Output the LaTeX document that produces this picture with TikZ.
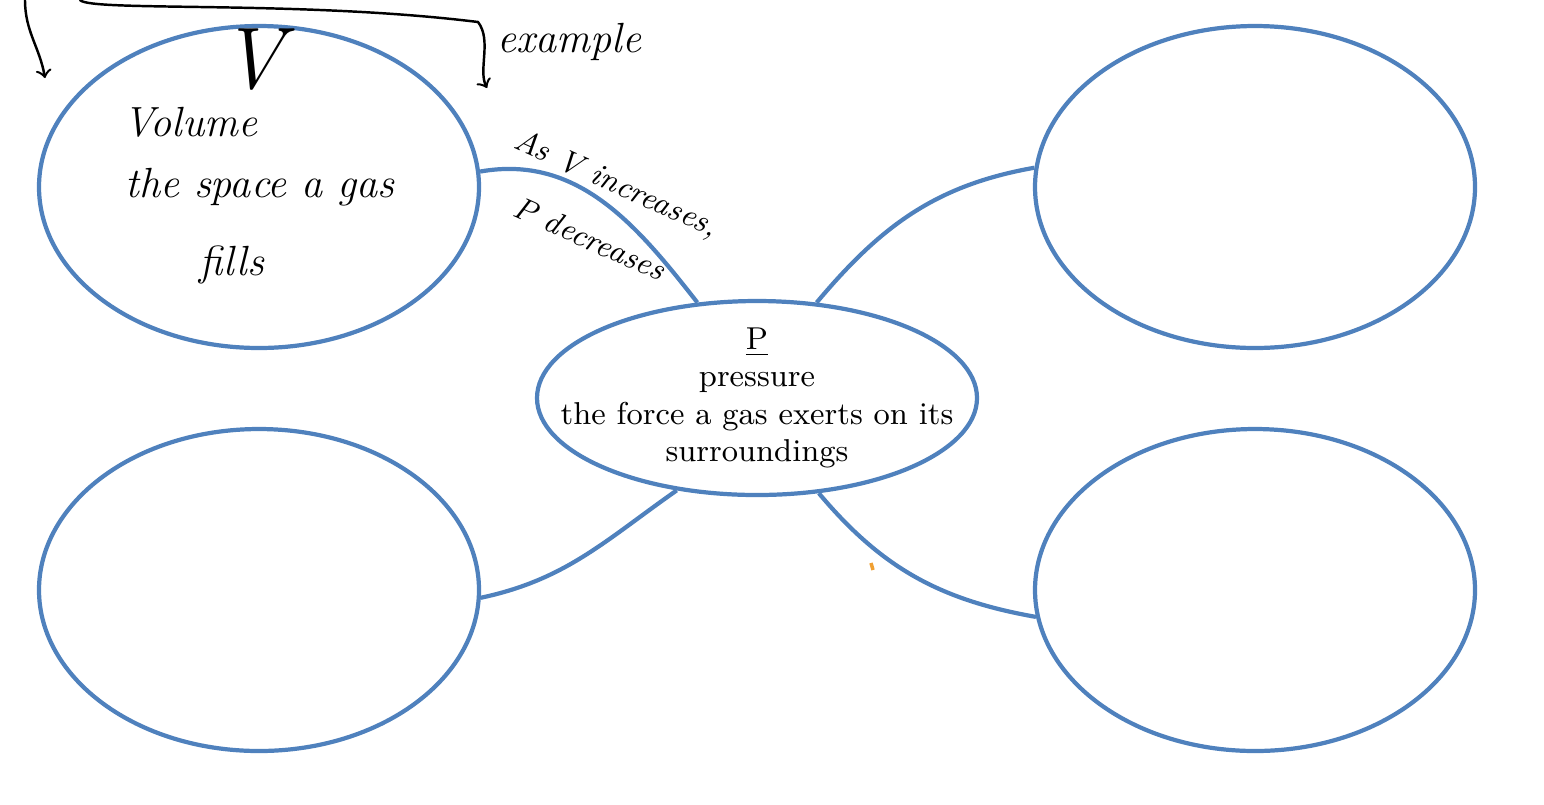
\documentclass[tikz,border=0pt]{standalone}
\usetikzlibrary{shapes.geometric}
\definecolor{bubbleColor}{RGB}{79,129,189}
\definecolor{markColor}{RGB}{240,160,50}
\tikzset{
  bubble/.style = {draw=bubbleColor, line width=1.2pt, ellipse, fill=white,
                   minimum width=44mm, minimum height=32.2mm, inner sep=0pt},
  link/.style = {draw=bubbleColor, line width=1.2pt},
  hand/.style = {font=\itshape\large, inner sep=0pt},
  pen/.style = {draw=black, line width=0.7pt, line cap=round},
}
\begin{document}
\begin{tikzpicture}[x=0.1mm, y=-0.1mm]
\useasboundingbox (0,0) rectangle (1544,804);
\node [bubble] (tl) at (259,187) {};
\node [bubble] (tr) at (1255,187) {};
\node [bubble] (bl) at (259,590) {};
\node [bubble] (br) at (1255,590) {};
\node [bubble, minimum height=19.4mm] (p) at (757,398) {};
\node [align=center, font=\fontsize{9}{10.6}\selectfont, inner sep=0pt] (pText) at (p)
  {\underline{P}\\pressure\\the force a gas exerts on its\\surroundings};
\draw [link] (tl.4) to[out=10, in=128] (p.122);
\draw [link] (bl.-2) to[out=12, in=-145] (p.229);
\draw [link] (tr.175) to[out=190, in=50] (p.58);
\draw [link] (br.187) to[out=170, in=-50] (p.-57);
% handwriting
\node [hand, font=\itshape\Huge] (bigV) at (252,60) {V};
\node [hand] (vol) at (190,122) {Volume};
\node [hand] (space) at (260,187) {the space a gas};
\node [hand] (fills) at (232,265) {fills};
\node [hand, anchor=west] (ex) at (497,42) {example};
\node [hand, font=\itshape\small, rotate=-24, anchor=west] (asV) at (515,140) {As V increases,};
\node [hand, font=\itshape\small, rotate=-24, anchor=west] (pDec) at (515,205) {P decreases};
\coordinate (leftTop) at (25,0);
\coordinate (leftTip) at (45,78);
\coordinate (braceTop) at (80,0);
\coordinate (braceTip) at (487,88);
\draw [pen, ->] (leftTop) to[out=-90, in=100] (leftTip);
\draw [pen, ->] (braceTop) .. controls (90,12) and (300,0) .. (478,22) .. controls (492,40) and (478,70) .. (braceTip);
\draw [markColor, line width=1pt] (871,563) -- (873,570);
\end{tikzpicture}
\end{document}
